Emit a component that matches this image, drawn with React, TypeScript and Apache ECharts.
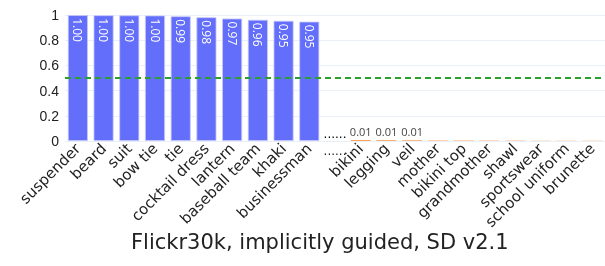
import React, { useEffect, useRef } from "react";
import * as echarts from "echarts";

const categories = [
  "suspender", "beard", "suit", "bow tie", "tie", "cocktail dress", "lantern", "baseball team", "khaki", "businessman",
  "......",
  "bikini", "legging", "veil", "mother", "bikini top", "grandmother", "shawl", "sportswear", "school uniform", "brunette",
];
const topValues = [0.999, 0.998, 0.997, 0.996, 0.99, 0.982, 0.972, 0.962, 0.954, 0.947];
const bottomValues = [0.008, 0.007, 0.006, 0.004, 0.004, 0.003, 0.003, 0.002, 0.002, 0.002];
const yTicks = [0, 0.2, 0.4, 0.6, 0.8, 1];
const separatorLabel = "......";
const threshold = 0.5;
const titleText = "Flickr30k, implicitly guided, SD v2.1";

export default function App() {
  const ref = useRef<HTMLDivElement>(null);
  useEffect(() => {
    if (!ref.current) return;
    const chart = echarts.init(ref.current, null, { renderer: "svg" });
    const sepIndex = topValues.length;
    const topData = categories.map((_, i) => (i < sepIndex ? topValues[i] : "-"));
    const botData = categories.map((_, i) => (i > sepIndex ? bottomValues[i - sepIndex - 1] : "-"));
    const sepData = categories.map((_, i) => (i === sepIndex ? 0 : "-"));
    chart.setOption({
      animation: false,
      textStyle: { fontFamily: "DejaVu Sans" },
      grid: { left: 65, top: 15, width: 551, height: 126, containLabel: false },
      xAxis: [
        {
          type: "category",
          data: categories,
          axisLine: { show: false },
          axisTick: { show: false },
          axisLabel: {
            interval: 0,
            rotate: 45,
            fontSize: 15,
            fontFamily: "DejaVu Sans",
            margin: 5,
            color: "#222",
            formatter: (v: string) => (v === separatorLabel ? "" : v),
          },
        },
        {
          type: "category",
          data: categories,
          position: "bottom",
          axisLine: { show: false },
          axisTick: { show: false },
          axisLabel: {
            interval: 0,
            rotate: 0,
            fontSize: 12,
            fontFamily: "DejaVu Sans",
            margin: 4,
            color: "#222",
            formatter: (v: string) => (v === separatorLabel ? v : ""),
          },
        },
      ],
      yAxis: {
        type: "value",
        min: 0,
        max: 1,
        interval: 0.2,
        axisLabel: {
          fontSize: 14,
          color: "#222",
          fontFamily: "Liberation Sans",
          margin: 6,
          formatter: (v: number) => (yTicks.includes(+v.toFixed(1)) ? String(+v.toFixed(1)) : ""),
        },
        axisLine: { show: false },
        axisTick: { show: false },
        splitLine: { lineStyle: { color: "#ebf0f8", width: 1 } },
      },
      series: [
        {
          type: "bar",
          data: topData,
          barWidth: 20,
          barGap: "-100%",
          itemStyle: { color: "#636efa", borderColor: "#c5c9fc", borderWidth: 0.8 },
          label: {
            show: true,
            position: "insideTop",
            rotate: -90,
            align: "left",
            verticalAlign: "middle",
            distance: 3,
            color: "#ffffff",
            fontSize: 12,
            fontFamily: "Open Sans",
            formatter: (p: any) => Number(p.value).toFixed(2),
          },
          markLine: {
            silent: true,
            symbol: "none",
            label: { show: false },
            lineStyle: { color: "#2ca02c", type: [6, 4], width: 2 },
            data: [{ yAxis: threshold }],
          },
        },
        {
          type: "bar",
          data: botData,
          barWidth: 20,
          barGap: "-100%",
          itemStyle: { color: "#ffa15a" },
          label: {
            show: true,
            position: "top",
            distance: 3,
            color: "#444",
            fontSize: 11,
            fontFamily: "Open Sans",
            formatter: (p: any) => (Number(p.value) >= 0.005 ? Number(p.value).toFixed(2) : ""),
          },
        },
        {
          type: "bar",
          data: sepData,
          barWidth: 20,
          barGap: "-100%",
          itemStyle: { color: "rgba(0,0,0,0)" },
          label: {
            show: true,
            position: "top",
            distance: 1,
            color: "#000",
            fontSize: 12,
            fontFamily: "DejaVu Sans",
            formatter: () => separatorLabel,
          },
        },
      ],
      graphic: [
        {
          type: "text",
          left: 131,
          top: 231,
          style: { text: titleText, fontSize: 21, fontFamily: "DejaVu Sans", fill: "#222" },
        },
      ],
    });
    return () => chart.dispose();
  }, []);
  return <div ref={ref} style={{ position: "fixed", left: 0, top: 0, width: 605, height: 266 }} />;
}
